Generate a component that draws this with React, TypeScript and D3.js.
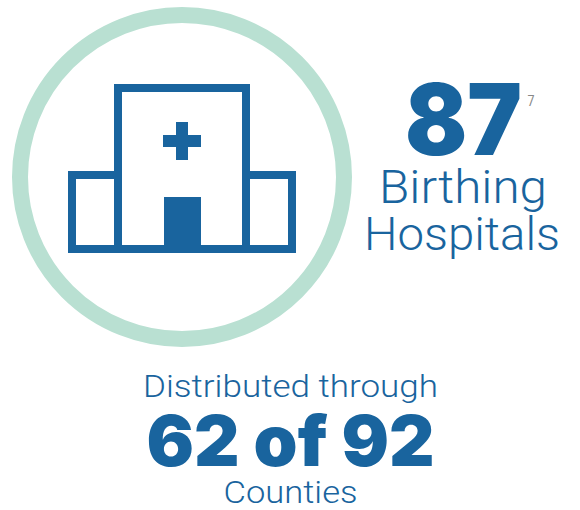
import { useEffect, useRef } from "react";
import * as d3 from "d3";

// figures shown on the graphic
const hospitalCount = [87];
const footnoteRefs = [7];
const countiesServed = [62];
const countiesTotal = [92];
const hospitalLines = ["Birthing", "Hospitals"];
const countyLines = ["Distributed through", "Counties"];

const BLUE = "#19649e";
const GREEN = "#b9e0d2";
const BODY_FONT = "Roboto, sans-serif";
const HEAVY_FONT = "Inter, Roboto, sans-serif";

function App() {
  const ref = useRef<SVGSVGElement>(null);

  useEffect(() => {
    const svg = d3.select(ref.current);
    svg.selectAll("*").remove();

    // ring round the icon
    svg
      .append("circle")
      .attr("cx", 182)
      .attr("cy", 177)
      .attr("r", 162)
      .attr("fill", "#fff")
      .attr("stroke", GREEN)
      .attr("stroke-width", 16);

    // hospital icon, wings first so the main block covers their inner edge
    const icon = svg.append("g");
    const outlined = [
      [72, 175, 46, 74],
      [246, 175, 46, 74],
      [118, 88, 128, 161],
    ];
    icon
      .selectAll("rect.part")
      .data(outlined)
      .join("rect")
      .attr("class", "part")
      .attr("x", (d) => d[0])
      .attr("y", (d) => d[1])
      .attr("width", (d) => d[2])
      .attr("height", (d) => d[3])
      .attr("fill", "#fff")
      .attr("stroke", BLUE)
      .attr("stroke-width", 8);

    const solid = [
      [164, 197, 37, 56], // door
      [176, 122, 12, 38], // cross
      [163, 135, 38, 12],
    ];
    icon
      .selectAll("rect.solid")
      .data(solid)
      .join("rect")
      .attr("class", "solid")
      .attr("x", (d) => d[0])
      .attr("y", (d) => d[1])
      .attr("width", (d) => d[2])
      .attr("height", (d) => d[3])
      .attr("fill", BLUE);

    const label = (
      txt: string,
      x: number,
      y: number,
      size: number,
      font: string,
      weight: number,
      fitWidth: number,
      color = BLUE
    ) =>
      svg
        .append("text")
        .attr("x", x)
        .attr("y", y)
        .attr("text-anchor", "middle")
        .attr("textLength", fitWidth)
        .attr("lengthAdjust", "spacingAndGlyphs")
        .style("font-family", font)
        .style("font-size", `${size}px`)
        .style("font-weight", weight)
        .attr("fill", color)
        .text(txt);

    label(String(hospitalCount[0]), 463.5, 155, 99, HEAVY_FONT, 900, 117);
    label(String(footnoteRefs[0]), 531, 106, 14, BODY_FONT, 400, 7, "#888");
    label(hospitalLines[0], 463, 203, 46, BODY_FONT, 350, 168);
    label(hospitalLines[1], 462, 250, 46, BODY_FONT, 350, 196);
    label(countyLines[0], 290.5, 397, 32, BODY_FONT, 350, 295);
    label(`${countiesServed[0]} of ${countiesTotal[0]}`, 290.5, 466, 70, HEAVY_FONT, 900, 288);
    label(countyLines[1], 290.5, 503, 32, BODY_FONT, 350, 134);
  }, []);

  return (
    <svg
      ref={ref}
      width={580}
      height={510}
      style={{ position: "absolute", left: 0, top: 0 }}
    />
  );
}

export default App;
